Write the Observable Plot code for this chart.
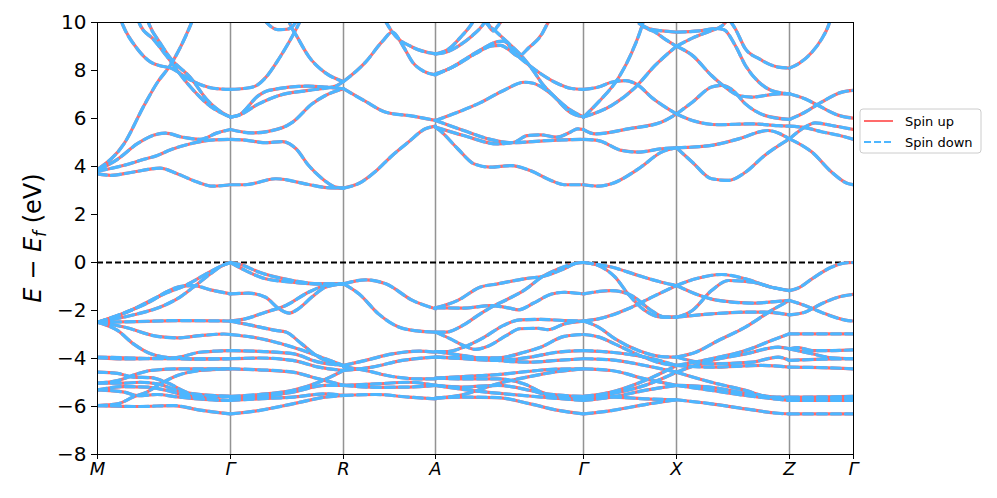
<!DOCTYPE html>
<html><head><meta charset="utf-8">
<script src="https://cdn.jsdelivr.net/npm/d3@7"></script>
<script src="https://cdn.jsdelivr.net/npm/@observablehq/plot@0.6"></script>
<style>body{margin:0;background:#fff;} svg{display:block;font-family:"DejaVu Sans",sans-serif;}</style>
</head><body><div id="chart"></div>
<script>
// High-symmetry path
const kLabels = ["M","Γ","R","A","Γ","X","Z","Γ"];
const kPos = [0,133,246,338,486,579,692,756];
const yTicks = [-8,-6,-4,-2,0,2,4,6,8,10];
const seriesNames = ["Spin up","Spin down"];
const seriesColors = ["#FF6B6B","#4DB6FF"];

// Bands per segment: each curve = [fraction along segment, E - Ef (eV)]
const bandsMG = [
 [[0,3.88],[0.2,4.95],[0.35,6.54],[0.45,7.5],[0.55,8.24],[0.7,9.9],[0.75,10.6]],
 [[0,3.84],[0.15,4.3],[0.3,4.95],[0.42,5.3],[0.51,5.39],[0.64,5.22],[0.77,5.13],[0.9,5.4],[1,5.54]],
 [[0,3.8],[0.2,4.05],[0.35,4.3],[0.45,4.46],[0.55,4.7],[0.7,4.95],[0.85,5.1],[1,5.13]],
 [[0,3.69],[0.1,3.63],[0.25,3.75],[0.47,3.93],[0.6,3.7],[0.75,3.35],[0.87,3.18],[1,3.24]],
 [[0.15,10.5],[0.19,9.9],[0.3,8.9],[0.4,8.35],[0.47,8.2],[0.55,8.1],[0.7,7.6],[0.87,7.26],[1,7.21]],
 [[0.3,10.2],[0.32,9.9],[0.42,9.3],[0.52,8.6],[0.67,7.5],[0.85,6.5],[1,6.06]],
 [[0.37,10.2],[0.39,9.9],[0.47,9.15],[0.55,8.5],[0.7,7.7],[0.82,6.8],[0.95,6.2],[1,6.06]],
 [[0,-2.49],[0.22,-2.07],[0.5,-1.31],[0.67,-0.93],[0.82,-0.47],[0.95,-0.1],[1,0]],
 [[0,-2.49],[0.25,-2.21],[0.5,-1.79],[0.62,-1.44],[0.72,-1.03],[0.85,-0.47],[0.93,-0.15],[1,0]],
 [[0,-2.49],[0.2,-2.1],[0.4,-1.62],[0.52,-1.22],[0.62,-1.0],[0.72,-0.96],[0.85,-1.14],[1,-1.31]],
 [[0,-2.49],[0.3,-2.46],[0.6,-2.42],[1,-2.44]],
 [[0,-2.49],[0.2,-2.69],[0.45,-3.08],[0.6,-3.14],[0.77,-3.05],[0.95,-2.98],[1,-3.0]],
 [[0,-2.49],[0.15,-2.83],[0.27,-3.39],[0.4,-3.8],[0.57,-3.97],[0.77,-3.74],[1,-3.67]],
 [[0,-3.94],[0.2,-3.97],[0.45,-4.01],[0.7,-4.01],[1,-4.01]],
 [[0,-3.97],[0.25,-4.02],[0.5,-3.98],[0.75,-4.03],[1,-4.01]],
 [[0,-4.57],[0.15,-4.62],[0.27,-4.78],[0.4,-4.8],[0.52,-5.0],[0.7,-5.45],[1,-5.58]],
 [[0,-5.03],[0.15,-4.92],[0.3,-4.64],[0.4,-4.5],[0.6,-4.43],[1,-4.43]],
 [[0,-5.03],[0.2,-5.03],[0.32,-4.99],[0.45,-5.06],[0.6,-5.33],[0.77,-5.58],[1,-5.58]],
 [[0,-5.31],[0.2,-5.17],[0.37,-5.19],[0.52,-5.33],[0.7,-5.6],[1,-5.75]],
 [[0,-5.96],[0.15,-5.89],[0.27,-5.6],[0.37,-5.4],[0.47,-5.06],[0.6,-4.71],[0.77,-4.5],[1,-4.43]],
 [[0,-5.31],[0.2,-5.4],[0.3,-5.55],[0.45,-5.5],[0.6,-5.6],[0.8,-5.7],[1,-5.75]],
 [[0,-5.96],[0.32,-6.0],[0.57,-5.96],[0.77,-6.15],[1,-6.31]]
];
const bandsGR = [
 [[0,7.21],[0.12,7.25],[0.22,7.35],[0.31,7.7],[0.43,8.5],[0.52,9.2],[0.6,9.9],[0.65,10.4]],
 [[0.3,10.1],[0.34,9.9],[0.42,9.7],[0.5,9.72],[0.56,9.9],[0.6,10.2]],
 [[0.5,10.3],[0.53,9.9],[0.59,9.4],[0.69,8.6],[0.84,7.9],[1,7.54]],
 [[0,6.06],[0.07,6.13],[0.25,6.96],[0.34,7.17],[0.69,7.35],[0.84,7.31],[1,7.24]],
 [[0,6.06],[0.07,6.13],[0.25,6.61],[0.43,6.96],[0.69,7.17],[0.93,7.35],[1,7.54]],
 [[0,5.54],[0.19,5.4],[0.46,5.62],[0.55,5.85],[0.72,6.6],[0.84,6.96],[1,7.24]],
 [[0,5.13],[0.13,5.1],[0.31,4.99],[0.46,5.04],[0.58,4.74],[0.69,4.05],[0.81,3.5],[0.93,3.14],[1,3.1]],
 [[0,3.24],[0.13,3.24],[0.4,3.49],[0.69,3.25],[0.85,3.12],[1,3.1]],
 [[0,0],[0.1,-0.1],[0.25,-0.4],[0.55,-0.75],[0.78,-0.89],[1,-0.89]],
 [[0,0],[0.13,-0.33],[0.31,-0.68],[0.55,-0.82],[0.78,-0.89],[1,-0.89]],
 [[0,-1.31],[0.16,-1.28],[0.31,-1.45],[0.43,-1.93],[0.52,-2.11],[0.6,-1.93],[0.72,-1.44],[0.84,-1.03],[1,-0.89]],
 [[0,-2.44],[0.13,-2.35],[0.31,-2.07],[0.49,-1.79],[0.69,-1.24],[0.84,-0.96],[1,-0.89]],
 [[0,-2.44],[0.19,-2.62],[0.4,-2.83],[0.49,-2.9],[0.63,-3.39],[0.78,-3.94],[0.93,-4.22],[1,-4.29]],
 [[0,-3.0],[0.19,-3.11],[0.4,-3.32],[0.6,-3.6],[0.84,-4.01],[1,-4.29]],
 [[0,-3.67],[0.25,-3.7],[0.55,-3.8],[0.78,-4.15],[1,-4.29]],
 [[0,-4.01],[0.25,-3.98],[0.55,-4.08],[0.78,-4.36],[1,-4.5]],
 [[0,-4.43],[0.25,-4.47],[0.55,-4.57],[0.78,-4.85],[1,-5.12]],
 [[0,-5.58],[0.25,-5.5],[0.55,-5.33],[0.78,-4.99],[1,-4.5]],
 [[0,-5.65],[0.25,-5.61],[0.55,-5.4],[0.84,-5.12],[1,-5.12]],
 [[0,-5.75],[0.25,-5.68],[0.55,-5.61],[0.84,-5.47],[1,-5.54]],
 [[0,-6.31],[0.25,-6.17],[0.55,-5.89],[0.84,-5.61],[1,-5.54]]
];
const bandsRA = [
 [[0,7.54],[0.24,8.35],[0.42,9.2],[0.53,9.6],[0.65,9.0],[0.75,8.35],[0.88,7.95],[1,7.82]],
 [[0.45,10.1],[0.48,9.9],[0.53,9.6],[0.75,8.97],[1,8.69]],
 [[0,7.24],[0.24,6.71],[0.46,6.26],[0.75,6.1],[1,5.92]],
 [[0,3.1],[0.17,3.3],[0.35,3.8],[0.53,4.46],[0.7,5.0],[0.89,5.57],[1,5.68]],
 [[0,-0.89],[0.24,-0.72],[0.46,-0.89],[0.75,-1.58],[1,-1.93]],
 [[0,-0.89],[0.17,-1.31],[0.38,-2.14],[0.6,-2.69],[0.8,-2.85],[1,-2.9]],
 [[0,-4.29],[0.24,-4.08],[0.53,-3.81],[0.82,-3.69],[1,-3.74]],
 [[0,-4.5],[0.31,-4.36],[0.64,-4.08],[1,-3.94]],
 [[0,-4.35],[0.24,-4.5],[0.53,-4.75],[0.82,-4.85],[1,-4.85]],
 [[0,-5.12],[0.35,-5.06],[0.71,-4.99],[1,-5.12]],
 [[0,-5.12],[0.35,-5.2],[0.71,-5.19],[1,-5.12]],
 [[0,-5.54],[0.35,-5.5],[0.71,-5.61],[1,-5.68]]
];
const bandsAG = [
 [[0,8.69],[0.09,8.9],[0.18,9.46],[0.24,9.9],[0.27,10.2]],
 [[0,8.69],[0.07,8.76],[0.16,9.04],[0.25,9.46],[0.32,9.9],[0.35,10.2]],
 [[0.33,10.1],[0.36,9.85],[0.39,9.65],[0.42,9.85],[0.45,10.1]],
 [[0.33,10.2],[0.36,9.9],[0.4,9.67],[0.5,9.1],[0.59,8.55],[0.66,8.0],[0.72,7.46],[0.81,6.88],[0.9,6.4],[1,6.06]],
 [[0,7.82],[0.135,8.2],[0.27,8.7],[0.38,9.02],[0.44,9.05],[0.5,8.85],[0.56,8.6],[0.63,8.95],[0.72,9.53],[0.75,9.88],[0.78,10.2]],
 [[0,7.86],[0.1,8.1],[0.22,8.55],[0.33,8.95],[0.42,9.2],[0.46,9.22],[0.54,8.7],[0.68,8.0],[0.81,7.5],[0.92,7.25],[1,7.21]],
 [[0,5.92],[0.15,6.26],[0.3,6.65],[0.46,7.17],[0.6,7.51],[0.66,7.47],[0.78,7.03],[0.91,6.26],[1,6.06]],
 [[0,5.92],[0.19,5.5],[0.37,5.13],[0.51,4.99],[0.75,5.08],[1,5.13]],
 [[0,5.64],[0.19,5.29],[0.42,4.94],[0.53,5.01],[0.62,5.29],[0.71,5.32],[0.82,5.22],[0.91,5.43],[0.96,5.57],[1,5.54]],
 [[0,5.64],[0.03,5.5],[0.15,4.74],[0.26,4.11],[0.37,3.97],[0.51,4.04],[0.64,3.83],[0.78,3.42],[0.87,3.24],[1,3.24]],
 [[0,-1.89],[0.15,-1.58],[0.3,-1.03],[0.42,-0.89],[0.6,-0.68],[0.75,-0.54],[0.87,-0.26],[0.96,-0.02],[1,0]],
 [[0,-2.9],[0.07,-2.9],[0.19,-2.6],[0.3,-2.15],[0.39,-1.82],[0.48,-1.55],[0.6,-1.15],[0.72,-0.6],[0.85,-0.22],[0.95,-0.03],[1,0]],
 [[0,-1.89],[0.19,-1.9],[0.37,-1.8],[0.5,-1.9],[0.56,-1.97],[0.66,-1.7],[0.78,-1.32],[0.87,-1.24],[1,-1.31]],
 [[0,-2.9],[0.1,-3.18],[0.19,-3.46],[0.27,-3.62],[0.35,-3.5],[0.48,-3.04],[0.57,-2.76],[0.69,-2.74],[0.76,-2.8],[0.87,-2.56],[1,-2.44]],
 [[0,-3.71],[0.08,-3.71],[0.19,-3.53],[0.33,-3.11],[0.46,-2.62],[0.57,-2.39],[0.71,-2.37],[0.87,-2.42],[1,-2.44]],
 [[0,-3.94],[0.19,-3.97],[0.42,-3.97],[0.6,-3.74],[0.71,-3.53],[0.87,-3.08],[1,-3.0]],
 [[0,-3.94],[0.19,-4.01],[0.42,-4.08],[0.64,-3.94],[0.82,-3.74],[1,-3.67]],
 [[0,-3.71],[0.19,-3.88],[0.42,-4.08],[0.64,-4.15],[0.82,-4.08],[1,-4.01]],
 [[0,-4.82],[0.19,-4.75],[0.42,-4.67],[0.64,-4.53],[0.82,-4.44],[1,-4.43]],
 [[0,-4.82],[0.19,-4.85],[0.42,-4.85],[0.6,-5.06],[0.75,-5.47],[1,-5.58]],
 [[0,-5.12],[0.19,-5.19],[0.42,-5.12],[0.64,-5.33],[0.82,-5.61],[1,-5.68]],
 [[0,-5.12],[0.24,-5.33],[0.46,-5.47],[0.7,-5.6],[1,-5.75]],
 [[0,-5.65],[0.19,-5.61],[0.42,-5.63],[0.64,-5.89],[0.82,-6.15],[1,-6.31]],
 [[0,-5.65],[0.19,-5.5],[0.42,-5.05],[0.64,-4.75],[0.82,-4.55],[1,-4.43]]
];
const bandsGX = [
 [[0,7.21],[0.16,7.31],[0.3,7.51],[0.45,7.58],[0.59,7.38],[0.73,6.89],[0.91,6.4],[1,6.19]],
 [[0,6.06],[0.16,6.68],[0.38,7.72],[0.52,8.76],[0.63,9.88],[0.66,10.3]],
 [[0,6.06],[0.3,6.54],[0.56,7.31],[0.77,8.21],[1,9.01]],
 [[0.6,10.1],[0.63,9.88],[0.77,9.6],[0.88,9.3],[1,9.01]],
 [[0.6,9.95],[0.7,9.75],[0.85,9.65],[1,9.6]],
 [[0,5.54],[0.125,5.36],[0.48,5.57],[0.84,5.85],[1,6.19]],
 [[0,5.13],[0.16,5.08],[0.41,4.67],[0.59,4.6],[0.84,4.74],[1,4.78]],
 [[0,3.24],[0.16,3.18],[0.3,3.28],[0.59,3.9],[0.84,4.6],[1,4.78]],
 [[0,0],[0.3,-0.19],[0.59,-0.54],[0.84,-0.82],[1,-0.96]],
 [[0,0],[0.16,-0.13],[0.34,-0.61],[0.48,-1.31],[0.66,-2.0],[0.84,-2.28],[1,-2.28]],
 [[0,-1.31],[0.3,-1.17],[0.52,-1.38],[0.73,-2.0],[0.88,-2.28],[1,-2.28]],
 [[0,-2.44],[0.16,-2.35],[0.48,-1.93],[0.77,-1.38],[1,-0.96]],
 [[0,-2.44],[0.16,-2.69],[0.34,-3.18],[0.59,-3.67],[0.84,-3.92],[1,-3.94]],
 [[0,-3.0],[0.16,-3.1],[0.34,-3.4],[0.59,-3.85],[0.84,-4.2],[1,-4.29]],
 [[0,-3.67],[0.3,-3.74],[0.66,-3.94],[1,-4.29]],
 [[0,-4.01],[0.3,-4.06],[0.66,-4.29],[1,-4.57]],
 [[0,-4.43],[0.3,-4.5],[0.66,-4.85],[1,-5.12]],
 [[0,-5.58],[0.3,-5.4],[0.66,-4.92],[1,-4.29]],
 [[0,-5.65],[0.3,-5.47],[0.66,-5.12],[1,-4.57]],
 [[0,-5.75],[0.3,-5.61],[0.66,-5.33],[1,-5.12]],
 [[0,-6.31],[0.3,-6.17],[0.66,-5.92],[1,-5.72]],
 [[0,-5.58],[0.3,-5.6],[0.66,-5.68],[1,-5.72]]
];
const bandsXZ = [
 [[0,9.01],[0.14,9.35],[0.3,9.65],[0.4,9.85],[0.47,10.2]],
 [[0,9.6],[0.2,9.65],[0.35,9.75],[0.42,9.7],[0.52,9.04],[0.61,8.21],[0.73,7.51],[0.84,7.17],[1,7.03]],
 [[0.47,10.1],[0.52,9.74],[0.61,8.9],[0.73,8.49],[0.9,8.14],[1,8.1]],
 [[0,9.01],[0.14,8.63],[0.31,7.79],[0.43,7.31],[0.55,6.96],[0.67,6.89],[0.9,7.03],[1,7.03]],
 [[0,6.19],[0.14,6.68],[0.31,7.31],[0.4,7.38],[0.49,7.21],[0.61,6.61],[0.78,6.13],[1,5.96]],
 [[0,6.19],[0.14,5.92],[0.37,5.74],[0.67,5.78],[0.9,5.7],[1,5.68]],
 [[0,4.78],[0.31,4.88],[0.55,5.15],[0.81,5.5],[0.9,5.4],[1,5.15]],
 [[0,4.78],[0.14,4.18],[0.31,3.49],[0.46,3.42],[0.61,3.76],[0.78,4.46],[1,5.15]],
 [[0,-0.96],[0.17,-0.68],[0.4,-0.5],[0.61,-0.68],[0.84,-1.03],[1,-1.17]],
 [[0,-0.96],[0.17,-1.31],[0.37,-1.58],[0.67,-1.69],[0.9,-1.62],[1,-1.58]],
 [[0,-2.28],[0.14,-2.0],[0.31,-1.17],[0.46,-0.75],[0.67,-0.82],[0.84,-1.03],[1,-1.17]],
 [[0,-2.28],[0.31,-2.14],[0.61,-2.07],[0.78,-2.07],[1,-2.18]],
 [[0,-3.94],[0.17,-3.74],[0.37,-3.25],[0.61,-2.69],[0.84,-2.0],[1,-1.58]],
 [[0,-4.29],[0.31,-4.01],[0.61,-3.67],[0.84,-3.25],[1,-2.97]],
 [[0,-4.57],[0.31,-4.08],[0.61,-3.81],[0.9,-3.53],[1,-3.6]],
 [[0,-3.94],[0.31,-4.22],[0.67,-4.15],[0.9,-3.94],[1,-4.08]],
 [[0,-4.29],[0.31,-4.36],[0.75,-4.29],[1,-4.36]],
 [[0,-4.57],[0.31,-4.99],[0.61,-5.33],[0.84,-5.61],[1,-5.61]],
 [[0,-5.12],[0.31,-5.33],[0.61,-5.54],[1,-5.75]],
 [[0,-5.12],[0.31,-5.2],[0.61,-5.45],[1,-5.7]],
 [[0,-5.72],[0.31,-5.89],[0.61,-6.1],[0.9,-6.28],[1,-6.31]]
];
const bandsZG = [
 [[0,8.1],[0.15,8.3],[0.35,8.76],[0.5,9.3],[0.61,9.88],[0.66,10.3]],
 [[0,7.03],[0.24,6.82],[0.45,6.54],[0.77,6.13],[1,6.01]],
 [[0,5.96],[0.24,6.26],[0.5,6.68],[0.82,7.1],[1,7.17]],
 [[0,5.68],[0.24,5.62],[0.5,5.45],[0.77,5.3],[1,5.13]],
 [[0,5.15],[0.24,5.64],[0.4,5.82],[0.66,5.71],[1,5.54]],
 [[0,5.15],[0.35,4.6],[0.66,3.76],[0.9,3.3],[1,3.24]],
 [[0,-1.17],[0.14,-1.06],[0.35,-0.68],[0.66,-0.19],[0.87,-0.02],[1,0]],
 [[0,-1.58],[0.24,-1.79],[0.56,-2.14],[0.87,-2.4],[1,-2.44]],
 [[0,-2.18],[0.24,-2.07],[0.5,-1.72],[0.77,-1.44],[1,-1.33]],
 [[0,-2.97],[0.5,-2.97],[1,-2.97]],
 [[0,-3.6],[0.14,-3.55],[0.35,-3.67],[0.66,-3.67],[1,-3.64]],
 [[0,-3.6],[0.35,-3.8],[0.66,-3.97],[1,-4.01]],
 [[0,-4.08],[0.5,-4.03],[1,-4.01]],
 [[0,-4.36],[0.5,-4.38],[1,-4.43]],
 [[0,-5.61],[0.5,-5.6],[1,-5.58]],
 [[0,-5.75],[0.5,-5.75],[1,-5.75]],
 [[0,-5.68],[0.5,-5.66],[1,-5.65]],
 [[0,-6.31],[1,-6.31]]
];

const segments = [bandsMG, bandsGR, bandsRA, bandsAG, bandsGX, bandsXZ, bandsZG];
const rows = [];
segments.forEach((seg, s) => {
  const k0 = kPos[s], k1 = kPos[s + 1];
  seg.forEach((curve, c) => curve.forEach(([f, e]) => rows.push({k: k0 + f * (k1 - k0), E: e, id: s + "-" + c})));
});

const fmtY = d => d < 0 ? "\u2212" + Math.abs(d) : String(d);

const svg = Plot.plot({
  width: 997, height: 498,
  marginLeft: 97, marginRight: 144, marginTop: 22, marginBottom: 44,
  style: {fontFamily: "DejaVu Sans", background: "white", color: "black"},
  x: {domain: [0, 756]},
  y: {domain: [-8, 10]},
  marks: [
    Plot.ruleX(kPos.slice(1, -1), {stroke: "#808080", strokeWidth: 1.5, strokeOpacity: 0.85}),
    Plot.ruleY([0], {stroke: "black", strokeWidth: 1.8, strokeDasharray: "6,3"}),
    Plot.line(rows, {x: "k", y: "E", z: "id", curve: "monotone-x", stroke: seriesColors[0], strokeWidth: 3.2, clip: true}),
    Plot.line(rows, {x: "k", y: "E", z: "id", curve: "monotone-x", stroke: seriesColors[1], strokeWidth: 3.2, strokeDasharray: "9,5", clip: true}),
    Plot.frame({stroke: "black", strokeWidth: 1}),
    Plot.axisY({ticks: yTicks, tickSize: 6, tickPadding: 5, fontSize: 20, tickFormat: fmtY, label: null}),
    Plot.axisX({ticks: kPos, tickSize: 5, tickPadding: 3, fontSize: 18, tickFormat: d => kLabels[kPos.indexOf(d)], label: null})
  ]
});
document.getElementById("chart").appendChild(svg);

const s = d3.select(svg);
s.selectAll('g[aria-label="x-axis tick label"] text').attr("font-style", "italic");

// y-axis label with subscript
const yl = s.append("text")
  .attr("transform", "translate(41,238) rotate(-90)")
  .attr("text-anchor", "middle")
  .attr("font-size", 24)
  .attr("fill", "black");
yl.append("tspan").attr("font-style", "italic").text("E");
yl.append("tspan").text(" \u2212 ");
yl.append("tspan").attr("font-style", "italic").text("E");
yl.append("tspan").attr("font-style", "italic").attr("font-size", 17).attr("dy", 5).text("f");
yl.append("tspan").attr("dy", -5).text(" (eV)");

// legend
const lg = s.append("g").attr("font-size", 13).attr("text-anchor", "start");
lg.append("rect").attr("x", 860).attr("y", 109).attr("width", 121).attr("height", 44)
  .attr("rx", 3).attr("fill", "white").attr("stroke", "#cccccc").attr("stroke-width", 1);
seriesNames.forEach((name, i) => {
  const y = 121 + i * 21;
  lg.append("line").attr("x1", 864).attr("x2", 893).attr("y1", y).attr("y2", y)
    .attr("stroke", seriesColors[i]).attr("stroke-width", 2)
    .attr("stroke-dasharray", i === 1 ? "7,3" : null);
  lg.append("text").attr("x", 905).attr("y", y + 5).attr("text-anchor", "start").attr("fill", "black").text(name);
});
</script>
</body></html>
